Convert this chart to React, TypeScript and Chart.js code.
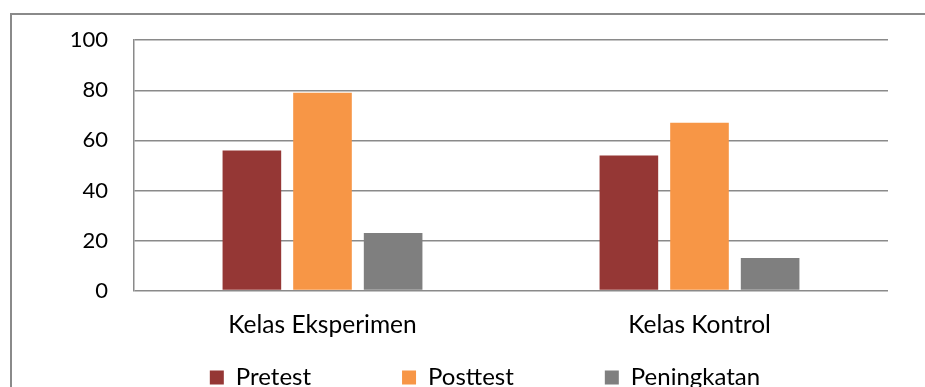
import React, { useEffect, useRef } from "react";
import { Chart, registerables } from "chart.js";

Chart.register(...registerables);

const categories = ["Kelas Eksperimen", "Kelas Kontrol"];
const seriesLabels = ["Pretest", "Posttest", "Peningkatan"];
const pretest = [56, 54];
const posttest = [79, 67];
const peningkatan = [23, 13];
const seriesColors = ["#953735", "#F79646", "#7F7F7F"];
const yMin = 0;
const yMax = 100;
const yStep = 20;

const FONT = "Lato, 'Noto Sans', sans-serif";

export default function App() {
  const ref = useRef<HTMLCanvasElement | null>(null);

  useEffect(() => {
    if (!ref.current) return;
    const legendPlace = {
      id: "legendPlace",
      afterLayout(chart: any) {
        const lg = chart.legend;
        const ca = chart.chartArea;
        if (lg && ca) {
          const pad = lg.options.labels.padding;
          lg.top = ca.bottom + 75 - pad;
          lg.bottom = lg.top + lg.height;
          lg.left = ca.left - 52;
          lg.right = ca.right;
          lg.width = lg.right - lg.left;
        }
      },
    };
    const values = [pretest, posttest, peningkatan];
    const chart = new Chart(ref.current, {
      type: "bar",
      data: {
        labels: categories,
        datasets: seriesLabels.map((label, i) => ({
          label,
          data: values[i],
          backgroundColor: seriesColors[i],
          borderWidth: 0,
          categoryPercentage: 0.562,
          barPercentage: 0.83,
        })),
      },
      options: {
        responsive: false,
        animation: false,
        devicePixelRatio: 1,
        layout: { padding: { left: 47, right: 37, top: 0, bottom: 0 } },
        plugins: {
          tooltip: { enabled: false },
          legend: {
            position: "bottom",
            labels: {
              boxWidth: 14,
              boxHeight: 14,
              padding: 91,
              color: "#000",
              font: { family: FONT, size: 24 },
            },
          },
        },
        scales: {
          x: {
            grid: { display: false },
            border: { display: false },
            ticks: {
              color: "#000",
              font: { family: FONT, size: 24.5 },
              padding: 12,
              maxRotation: 0,
            },
          },
          y: {
            min: yMin,
            max: yMax,
            ticks: {
              stepSize: yStep,
              color: "#000",
              font: { family: FONT, size: 22 },
              padding: 26,
            },
            grid: {
              color: "#8a8a8a",
              lineWidth: 1.5,
              drawTicks: false,
              tickLength: 0,
            },
            border: { display: true, color: "#8a8a8a", width: 1.5 },
            afterFit: (s: any) => {
              s.width = 75;
            },
          },
        },
      },
      plugins: [legendPlace],
    });
    return () => chart.destroy();
  }, []);

  return (
    <div
      style={{
        position: "fixed",
        left: 0,
        top: 0,
        width: 925,
        height: 387,
        overflow: "hidden",
        background: "#fff",
      }}
    >
      <div
        style={{
          position: "absolute",
          left: 10,
          top: 13,
          width: 1000,
          height: 500,
          border: "2px solid #8a8a8a",
          boxSizing: "border-box",
        }}
      />
      <canvas
        ref={ref}
        width={913}
        height={476}
        style={{ position: "absolute", left: 12, top: 1, width: 913, height: 476 }}
      />
    </div>
  );
}
